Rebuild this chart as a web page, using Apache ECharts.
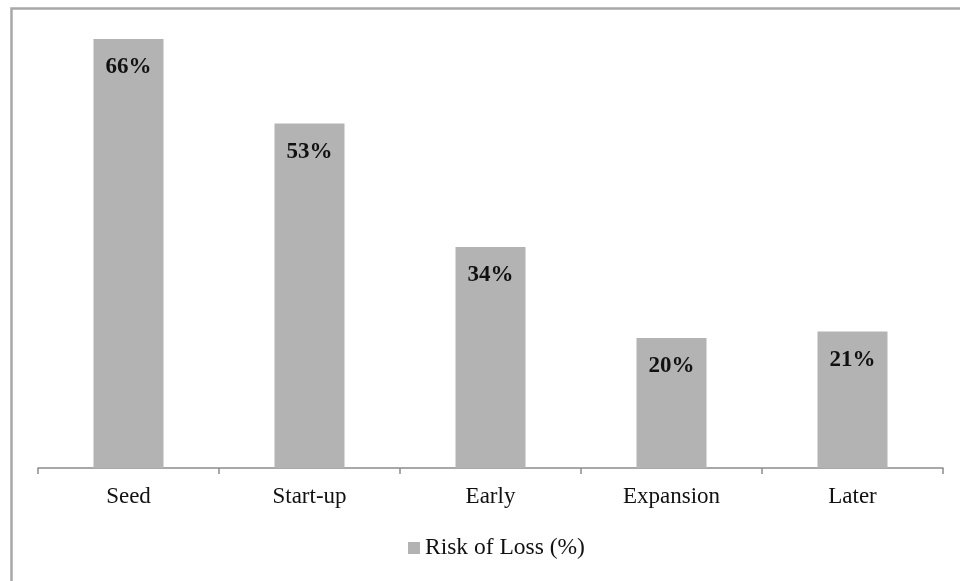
<!DOCTYPE html>
<html>
<head>
<meta charset="utf-8">
<script src="https://cdn.jsdelivr.net/npm/echarts@6/dist/echarts.min.js"></script>
<style>
  html, body { margin: 0; padding: 0; background: #fff; }
  #chart { width: 960px; height: 581px; }
</style>
</head>
<body>
<div id="chart"></div>
<script>
// 数据
var stages = ['Seed', 'Start-up', 'Early', 'Expansion', 'Later'];
var riskOfLoss = [66, 53, 34, 20, 21];
var seriesName = 'Risk of Loss (%)';

var myChart = echarts.init(document.getElementById('chart'));

var serif = '"Liberation Serif", "Times New Roman", serif';

var option = {
    backgroundColor: '#fff',
    animation: false,
    // 外框（只看得到左边和上边）
    graphic: [{
        type: 'rect',
        left: 9,
        top: 6,
        shape: { width: 1200, height: 900 },
        style: { fill: 'none', stroke: '#a8a8a8', lineWidth: 2.5 },
        silent: true
    }],
    grid: {
        left: 38,
        right: 17,
        top: 13,
        bottom: 113
    },
    legend: {
        bottom: 16,
        left: 403,
        itemWidth: 12,
        itemHeight: 12,
        itemGap: 10,
        icon: 'rect',
        textStyle: {
            fontFamily: serif,
            fontSize: 23.5,
            color: '#111'
        },
        data: [seriesName]
    },
    xAxis: {
        type: 'category',
        data: stages,
        axisLine: { lineStyle: { color: '#8c8c8c', width: 1.5 } },
        axisTick: { show: true, length: 6, lineStyle: { color: '#8c8c8c', width: 1.5 } },
        axisLabel: {
            margin: 17,
            fontFamily: serif,
            fontSize: 23,
            color: '#111'
        }
    },
    yAxis: {
        type: 'value',
        min: 0,
        max: 70,
        show: false,
        splitLine: { show: false }
    },
    series: [{
        name: seriesName,
        type: 'bar',
        data: riskOfLoss,
        barWidth: 70,
        itemStyle: { color: '#b3b3b3' },
        label: {
            show: true,
            position: 'insideTop',
            distance: 17,
            formatter: '{c}%',
            fontFamily: serif,
            fontWeight: 'bold',
            fontSize: 23,
            color: '#111'
        }
    }]
};

myChart.setOption(option);

window.addEventListener('resize', function () {
    myChart.resize();
});
</script>
</body>
</html>
